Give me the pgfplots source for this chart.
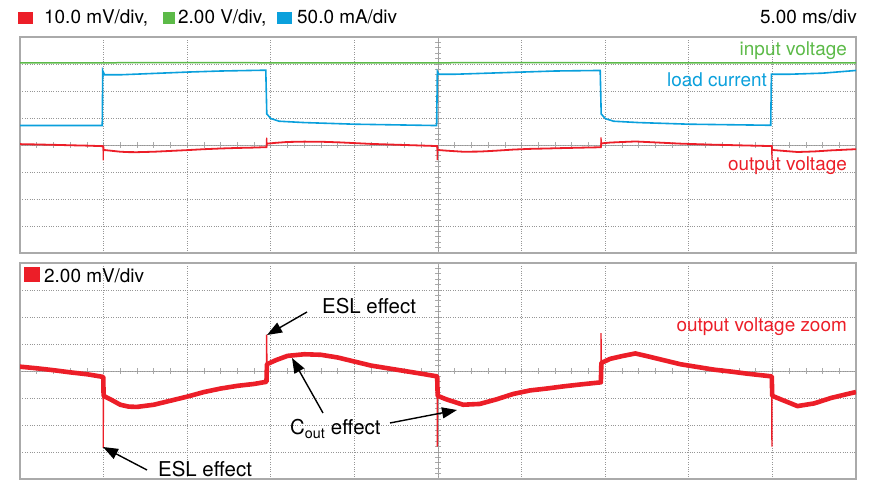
\documentclass[border=0pt]{standalone}
\usepackage{pgfplots}
\usepackage{pgfplotstable}
\pgfplotsset{compat=1.18}
\usepackage{fontspec}
\setmainfont{TeX Gyre Heros}
\usetikzlibrary{arrows.meta}
\definecolor{scred}{RGB}{236,30,40}
\definecolor{scgreen}{RGB}{92,186,72}
\definecolor{scblue}{RGB}{10,160,220}
\definecolor{frame}{RGB}{170,170,170}
\definecolor{gridc}{RGB}{150,150,150}

% output voltage (divisions of the 2 mV/div zoom), without the ESL spikes
\pgfplotstableread{
t v
0 0.16
1 0.10
2 0.03
3 -0.05
4 -0.12
4.98 -0.22
5.00 -0.92
5.5 -1.08
6.0 -1.25
6.5 -1.32
7.0 -1.33
8.0 -1.25
9.0 -1.10
10.0 -0.95
11.0 -0.78
12.0 -0.65
13.0 -0.55
14.0 -0.48
14.74 -0.40
14.77 0.25
15.3 0.40
16.0 0.56
17.0 0.62
18.0 0.60
19.0 0.50
20.0 0.35
21.0 0.20
22.0 0.10
23.0 0.00
24.0 -0.10
24.95 -0.20
24.98 -0.92
25.5 -1.05
26.5 -1.25
27.5 -1.22
28.5 -1.05
29.5 -0.85
30.5 -0.72
31.5 -0.65
32.5 -0.57
33.5 -0.50
34.74 -0.42
34.77 0.30
35.3 0.45
36.0 0.55
36.8 0.65
37.5 0.55
38.5 0.40
39.5 0.25
40.5 0.15
41.5 0.05
42.5 -0.02
43.5 -0.10
44.96 -0.20
44.99 -0.92
45.5 -1.05
46.5 -1.30
47.5 -1.20
48.5 -1.00
49.5 -0.85
50 -0.78
}\redzoom

% ESL spikes
\pgfplotstableread{
t v
4.97 -0.30
4.98 -2.85
4.99 -0.95
nan nan
14.74 -0.40
14.75 1.35
14.77 0.30
nan nan
24.95 -0.25
24.96 -2.80
24.97 -0.95
nan nan
34.74 -0.42
34.75 1.40
34.77 0.30
nan nan
44.96 -0.25
44.97 -2.80
44.98 -0.95
}\redspike

\pgfplotstableread{
t v
0 0.72
4.92 0.72
4.95 2.75
5.05 2.60
6 2.60
8 2.65
10 2.70
12 2.74
14.7 2.77
14.76 1.15
15.0 0.98
15.5 0.88
17 0.83
20 0.77
24.92 0.72
24.96 2.72
25.05 2.62
26 2.62
28 2.66
30 2.70
32 2.74
34.7 2.76
34.76 1.15
35.0 0.98
35.5 0.88
37 0.83
40 0.77
44.9 0.73
44.94 2.62
46 2.62
48 2.66
50 2.76
}\bluecur

\pgfplotstableread{
t v
0 3.04
10 3.05
20 3.04
30 3.05
40 3.04
50 3.04
}\greenvin

\pgfplotsset{scope/.style={
  scale only axis, width=836bp, height=216bp,
  xmin=0, xmax=50, ymin=-4, ymax=4,
  xtick={0,5,...,50}, ytick={-4,-3,...,4},
  xticklabels={}, yticklabels={},
  major tick length=0pt, tick style={draw=none},
  grid=major,
  major grid style={dotted, gridc, line width=0.7bp},
  axis line style={frame, line width=1.3bp},
  anchor=south west,
  unbounded coords=jump,
}}

\begin{document}
\begin{tikzpicture}[x=1bp,y=1bp]
\path[use as bounding box] (0,0) rectangle (870,481);

% center lines with fine ticks
\foreach \yb in {228,2} {
  \draw[frame, line width=0.9bp] (438,\yb) -- (438,\yb+216);
  \draw[frame, line width=0.9bp] (20,\yb+108) -- (856,\yb+108);
  \foreach \k in {1,...,39} {\draw[frame, line width=0.7bp] (435,{\yb+\k*5.4}) -- ++(6,0);}
  \foreach \k in {1,...,49} {\draw[frame, line width=0.7bp] ({20+\k*16.72},\yb+105) -- ++(0,6);}
}

% top panel
\begin{axis}[scope, at={(20bp,228bp)}]
\addplot[scgreen, line width=1.5bp] table[x=t,y=v] {\greenvin};
\addplot[scblue, line width=1.6bp] table[x=t,y=v] {\bluecur};
\addplot[scred, line width=1.8bp] table[x=t,y expr=\thisrow{v}*0.2] {\redzoom};
\addplot[scred, line width=1.2bp] table[x=t,y expr=\thisrow{v}*0.2] {\redspike};
\end{axis}

% bottom panel
\begin{axis}[scope, at={(20bp,2bp)}]
\addplot[scred, line width=4.6bp, line join=round] table[x=t,y=v] {\redzoom};
\addplot[scred, line width=1.3bp] table[x=t,y=v] {\redspike};
\end{axis}

\fontsize{19}{22}\selectfont
% header
\fill[scred] (18,457) rectangle (33,469);
\node[anchor=base west, inner sep=0] at (44,457) {10.0 mV/div,};
\fill[scgreen] (163,457) rectangle (175,469);
\node[anchor=base west, inner sep=0] at (178,457) {2.00 V/div,};
\fill[scblue] (277,457) rectangle (292,469);
\node[anchor=base west, inner sep=0] at (297,457) {50.0 mA/div};
\node[anchor=base east, inner sep=0] at (857,457) {5.00 ms/div};

% top panel labels
\node[anchor=base east, inner sep=0, text=scgreen] at (847,425.5) {input voltage};
\node[anchor=base east, inner sep=0, text=scblue] at (767,394) {load current};
\node[anchor=base east, inner sep=0, text=scred] at (847,310) {output voltage};

% bottom panel labels
\fill[scred] (24,198.5) rectangle (40,213.5);
\node[anchor=base west, inner sep=0] at (44,198.5) {2.00 mV/div};
\node[anchor=base east, inner sep=0, text=scred] at (847,149) {output voltage zoom};

\fontsize{20.5}{24}\selectfont
\node[anchor=base west, inner sep=0] at (322,167) {ESL effect};
\node[anchor=base west, inner sep=0] at (158,4) {ESL effect};
\node[anchor=base west, inner sep=0] at (290,46) {C\textsubscript{out} effect};

\tikzset{ann/.style={line width=1.4bp, -{Triangle[length=15bp,width=11bp]}}}
\draw[ann] (307,169) -- (267,146);
\draw[ann] (147,11) -- (103,34);
\draw[ann] (323,68) -- (292,123);
\draw[ann] (390,58) -- (457,71);
\end{tikzpicture}
\end{document}
